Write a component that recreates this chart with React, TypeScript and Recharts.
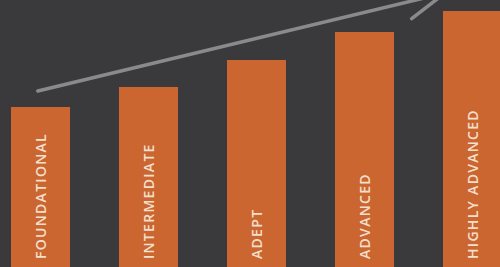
import { Bar, BarChart, LabelList, ReferenceLine, XAxis, YAxis } from 'recharts';

const levels = ['FOUNDATIONAL', 'INTERMEDIATE', 'ADEPT', 'ADVANCED', 'HIGHLY ADVANCED'];
const levelValues = [160, 180, 207, 235, 256];
const arrowFrom = { x: 0.48, y: 176 };
const arrowTo = { x: 4.25, y: 274 };

const data = levels.map((name, i) => ({ name, value: levelValues[i] }));

function ArrowShape(props: any) {
  const x1 = props.x1 ?? props.points?.[0]?.x;
  const y1 = props.y1 ?? props.points?.[0]?.y;
  const x2 = props.x2 ?? props.points?.[1]?.x;
  const y2 = props.y2 ?? props.points?.[1]?.y;
  if ([x1, y1, x2, y2].some((v) => typeof v !== 'number')) {
    return null;
  }
  const angle = Math.atan2(y1 - y2, x1 - x2);
  const len = 42;
  const spread = (24 * Math.PI) / 180;
  const b1 = { x: x2 + len * Math.cos(angle + spread), y: y2 + len * Math.sin(angle + spread) };
  const b2 = { x: x2 + len * Math.cos(angle - spread), y: y2 + len * Math.sin(angle - spread) };
  return (
    <g stroke="#8a8a8c" strokeWidth={3.5} strokeLinecap="round" fill="none">
      <line x1={x1} y1={y1} x2={x2} y2={y2} />
      <line x1={b1.x} y1={b1.y} x2={x2} y2={y2} />
      <line x1={b2.x} y1={b2.y} x2={x2} y2={y2} />
    </g>
  );
}

function LevelLabel(props: any) {
  const { x, y, width, height, value } = props;
  const cx = x + width / 2;
  const by = y + height - 8;
  return (
    <text
      x={cx}
      y={by}
      transform={`rotate(-90, ${cx}, ${by})`}
      textAnchor="start"
      dominantBaseline="central"
      fill="#f4dfcc"
      fontFamily="'Open Sans', sans-serif"
      fontSize={14}
      fontWeight={600}
      letterSpacing={1.3}
    >
      {value}
    </text>
  );
}

export default function App() {
  return (
    <div
      style={{
        position: 'absolute',
        top: 0,
        left: 0,
        width: 500,
        height: 267,
        overflow: 'hidden',
        background: '#3a3a3c',
      }}
    >
      <div style={{ position: 'absolute', top: 0, left: -14 }}>
        <BarChart width={540} height={267} data={data} margin={{ top: 0, right: 0, bottom: 0, left: 0 }}>
          <XAxis dataKey="name" hide />
          <XAxis xAxisId="arrow" type="number" dataKey="value" domain={[0, 5]} allowDataOverflow hide />
          <YAxis domain={[0, 267]} allowDataOverflow hide />
          <Bar dataKey="value" fill="#cb6630" barSize={59} isAnimationActive={false}>
            <LabelList dataKey="name" content={LevelLabel} />
          </Bar>
          <ReferenceLine
            xAxisId="arrow"
            segment={[arrowFrom, arrowTo]}
            ifOverflow="visible"
            shape={ArrowShape}
          />
        </BarChart>
      </div>
    </div>
  );
}
